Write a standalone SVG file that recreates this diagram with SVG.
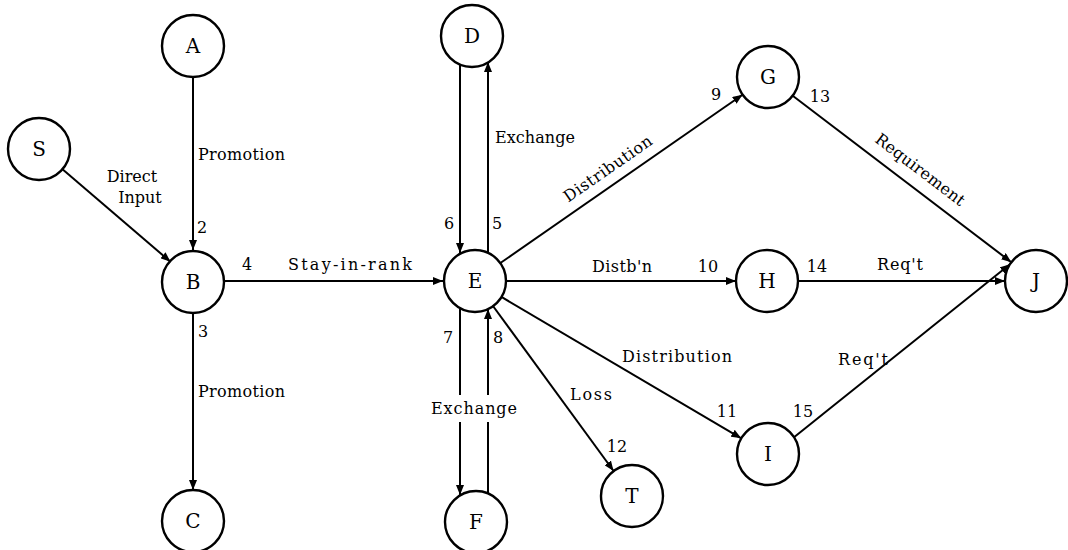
<svg xmlns="http://www.w3.org/2000/svg" width="1068" height="550" viewBox="0 0 1068 550">
<style>
.node circle{fill:#fff;stroke:#000;stroke-width:2.4}
.node text{font-family:"DejaVu Serif","Liberation Serif",serif;font-size:20px;text-anchor:middle;fill:#000}
.edges line{stroke:#000;stroke-width:2;marker-end:url(#ah)}
.edges line.nm{marker-end:none}
.lbl{font-family:"DejaVu Serif","Liberation Serif",serif;font-size:16px;fill:#000}
.num{font-family:"DejaVu Serif","Liberation Serif",serif;font-size:16px;fill:#000}
</style>
<defs>
<marker id="ah" viewBox="0 0 10 8" refX="10" refY="4" markerWidth="10" markerHeight="8" markerUnits="userSpaceOnUse" orient="auto">
<path d="M0,0 L10,4 L0,8 Z" fill="#000"/>
</marker>
</defs>
<rect width="1068" height="550" fill="#fff"/>
<g class="edges" id="connectors">
<line x1="62.5" y1="169.2" x2="170.5" y2="261.8"/>
<line x1="193" y1="77" x2="193" y2="250"/>
<line x1="193" y1="313" x2="193" y2="490"/>
<line x1="224" y1="281" x2="443" y2="281"/>
<line x1="488" y1="254" x2="488" y2="62"/>
<line x1="460" y1="65" x2="460" y2="253"/>
<line class="nm" x1="460" y1="309" x2="460" y2="395"/>
<line x1="460" y1="422" x2="460" y2="495"/>
<line class="nm" x1="488" y1="493" x2="488" y2="422"/>
<line x1="488" y1="395" x2="488" y2="309"/>
<line x1="500" y1="263.3" x2="742.5" y2="94.7"/>
<line x1="506" y1="281" x2="736" y2="281"/>
<line x1="501" y1="296.7" x2="741.3" y2="438.3"/>
<line x1="493" y1="306" x2="613.6" y2="471"/>
<line x1="792.7" y1="95.8" x2="1011.3" y2="262.2"/>
<line x1="798" y1="281" x2="1005" y2="281"/>
<line x1="794" y1="437.2" x2="1010" y2="264.2"/>
</g>
<g class="labels">
<text class="lbl" x="132" y="182" text-anchor="middle">Direct</text>
<text class="lbl" x="140" y="203" text-anchor="middle">Input</text>
<text class="lbl" x="198" y="160" textLength="87" lengthAdjust="spacing">Promotion</text>
<text class="lbl" x="198" y="397" textLength="87" lengthAdjust="spacing">Promotion</text>
<text class="lbl" x="350" y="270" text-anchor="middle" textLength="124" lengthAdjust="spacing">Stay-in-rank</text>
<text class="lbl" x="495" y="143" textLength="80" lengthAdjust="spacing">Exchange</text>
<text class="lbl" x="474" y="414" text-anchor="middle" textLength="86" lengthAdjust="spacing">Exchange</text>
<text class="lbl" x="608" y="174" text-anchor="middle" transform="rotate(-34.8 608 169)" textLength="104" lengthAdjust="spacing">Distribution</text>
<text class="lbl" x="622" y="272" text-anchor="middle" textLength="60" lengthAdjust="spacing">Distb'n</text>
<text class="lbl" x="677" y="362" text-anchor="middle" textLength="110" lengthAdjust="spacing">Distribution</text>
<text class="lbl" x="591" y="400" text-anchor="middle" textLength="42" lengthAdjust="spacing">Loss</text>
<text class="lbl" x="920" y="175" text-anchor="middle" transform="rotate(37.3 920 170)" textLength="108" lengthAdjust="spacing">Requirement</text>
<text class="lbl" x="900" y="270" text-anchor="middle" textLength="46" lengthAdjust="spacing">Req't</text>
<text class="lbl" x="863" y="365" text-anchor="middle" textLength="50" lengthAdjust="spacing">Req't</text>
<text class="num" x="202" y="233" text-anchor="middle">2</text>
<text class="num" x="203" y="337" text-anchor="middle">3</text>
<text class="num" x="247" y="270" text-anchor="middle">4</text>
<text class="num" x="497" y="229" text-anchor="middle">5</text>
<text class="num" x="449" y="229" text-anchor="middle">6</text>
<text class="num" x="448" y="343" text-anchor="middle">7</text>
<text class="num" x="498" y="343" text-anchor="middle">8</text>
<text class="num" x="716" y="100" text-anchor="middle">9</text>
<text class="num" x="708" y="272" text-anchor="middle">10</text>
<text class="num" x="727" y="417" text-anchor="middle">11</text>
<text class="num" x="617" y="452" text-anchor="middle">12</text>
<text class="num" x="820" y="102" text-anchor="middle">13</text>
<text class="num" x="817" y="272" text-anchor="middle">14</text>
<text class="num" x="803" y="417" text-anchor="middle">15</text>
</g>
<g class="node" id="node-S"><circle cx="39" cy="149" r="31"/><text x="39" y="156">S</text></g>
<g class="node" id="node-A"><circle cx="193" cy="46" r="31"/><text x="193" y="53">A</text></g>
<g class="node" id="node-B"><circle cx="193" cy="282" r="31"/><text x="193" y="289">B</text></g>
<g class="node" id="node-C"><circle cx="193" cy="521" r="31"/><text x="193" y="528">C</text></g>
<g class="node" id="node-D"><circle cx="472" cy="36" r="31"/><text x="472" y="43">D</text></g>
<g class="node" id="node-E"><circle cx="475" cy="281" r="31"/><text x="475" y="288">E</text></g>
<g class="node" id="node-F"><circle cx="476" cy="522" r="31"/><text x="476" y="529">F</text></g>
<g class="node" id="node-T"><circle cx="632" cy="496" r="31"/><text x="632" y="503">T</text></g>
<g class="node" id="node-G"><circle cx="768" cy="77" r="31"/><text x="768" y="84">G</text></g>
<g class="node" id="node-H"><circle cx="767" cy="281" r="31"/><text x="767" y="288">H</text></g>
<g class="node" id="node-I"><circle cx="768" cy="454" r="31"/><text x="768" y="461">I</text></g>
<g class="node" id="node-J"><circle cx="1036" cy="281" r="31"/><text x="1036" y="288">J</text></g>
</svg>
